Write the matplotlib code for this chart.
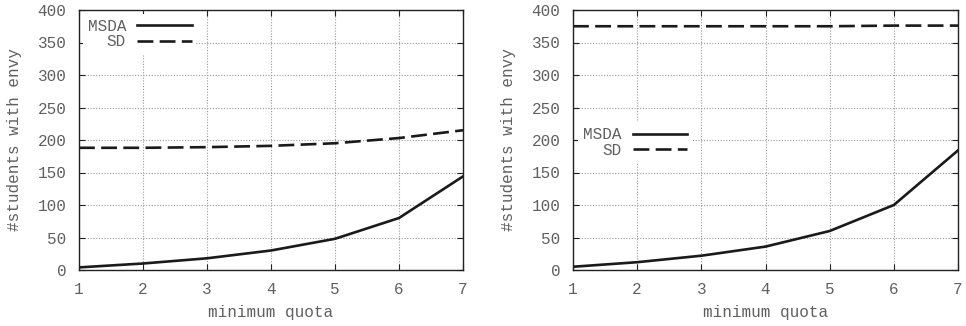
import matplotlib
matplotlib.use("Agg")
import matplotlib.pyplot as plt

quota = [1, 2, 3, 4, 5, 6, 7]
left_msda = [4, 10, 18, 30, 48, 80, 144]
left_sd = [188, 188, 189, 191, 195, 203, 215]
right_msda = [5, 12, 22, 36, 60, 100, 184]
right_sd = [375, 375, 375, 375, 375, 376, 376]
yticks = [0, 50, 100, 150, 200, 250, 300, 350, 400]

plt.rcParams['font.family'] = ['Liberation Mono', 'DejaVu Sans Mono']
plt.rcParams['font.size'] = 11.5
txt = '#606060'

fig = plt.figure(figsize=(9.66, 3.26), dpi=100)
W, H = 966, 326
axL = fig.add_axes([79 / W, 1 - 270 / H, (463 - 79) / W, 260 / H])
axR = fig.add_axes([573 / W, 1 - 270 / H, (958 - 573) / W, 260 / H])

def style(ax, msda, sd, loc, anchor, ylab_x):
    ax.plot(quota, msda, color='#1a1a1a', lw=1.9, label='MSDA', solid_joinstyle='miter')
    ax.plot(quota, sd, color='#1a1a1a', lw=1.9, linestyle=(0, (6, 2.4)), label='SD')
    ax.set_xlim(1, 7)
    ax.set_ylim(0, 400)
    ax.set_xticks(quota)
    ax.set_yticks(yticks)
    ax.grid(True, linestyle=(0, (1, 1.5)), color='#999999', lw=0.8)
    ax.set_axisbelow(True)
    ax.tick_params(direction='in', length=4, width=0.8, top=True, right=True,
                   colors='#222222', labelcolor=txt, labelsize=11.5)
    ax.tick_params(axis='x', pad=9)
    ax.tick_params(axis='y', pad=9)
    for s in ax.spines.values():
        s.set_color('#222222')
        s.set_linewidth(1.0)
    ax.set_xlabel('minimum quota', color=txt)
    ax.xaxis.set_label_coords(0.5, -(312 - 270) / 260, transform=ax.transAxes)
    ax.xaxis.label.set_va('center')
    ax.set_ylabel('#students with envy', color=txt)
    ax.yaxis.set_label_coords(ylab_x, 0.5, transform=ax.transAxes)
    ax.yaxis.label.set_va('center')
    leg = ax.legend(loc=loc, bbox_to_anchor=anchor, markerfirst=False,
                    frameon=True, fancybox=False, framealpha=1,
                    edgecolor='none', facecolor='white', handlelength=3.4,
                    handletextpad=0.7, labelspacing=0.05, borderpad=0.3,
                    borderaxespad=0.0, fontsize=11.5)
    for t in leg.get_texts():
        t.set_color(txt)
    leg.set_zorder(5)

style(axL, left_msda, left_sd, 'upper left', (0.01, 0.985), -(79 - 15) / 384)
style(axR, right_msda, right_sd, 'center left', (0.014, 0.49), -(573 - 508) / 385)

fig.savefig('out.png', dpi=100)
